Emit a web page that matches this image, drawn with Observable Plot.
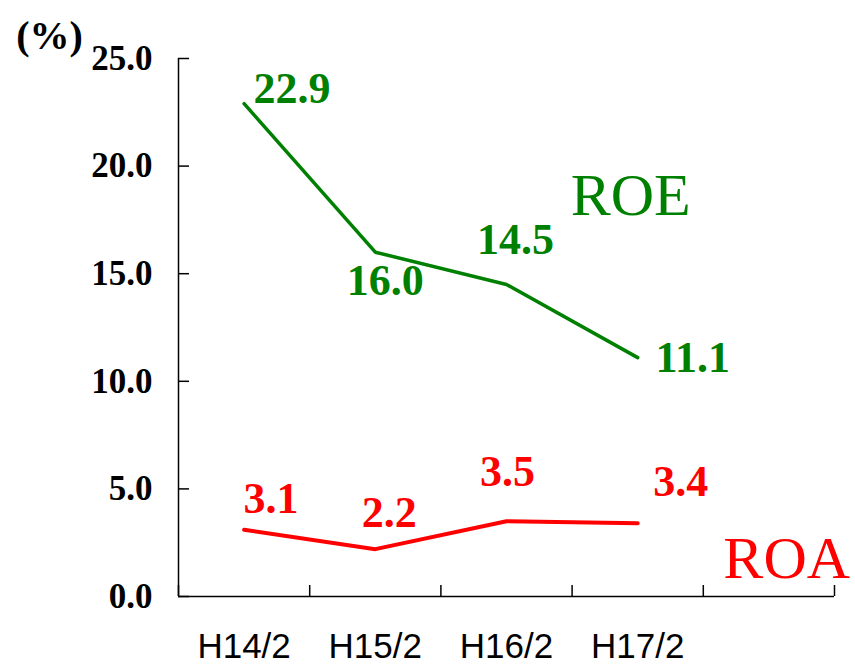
<!DOCTYPE html>
<html><head><meta charset="utf-8">
<script src="https://cdn.jsdelivr.net/npm/d3@7"></script>
<script src="https://cdn.jsdelivr.net/npm/@observablehq/plot@0.6"></script>
<style>body{margin:0;background:#fff} #chart{width:855px;height:664px}</style>
</head><body><div id="chart"></div>
<script>
const categories = ["H14/2", "H15/2", "H16/2", "H17/2"];
const roe = [22.9, 16.0, 14.5, 11.1];
const roa = [3.1, 2.2, 3.5, 3.4];
const yTicks = [0, 5, 10, 15, 20, 25];
const seriesNames = ["ROE", "ROA"];
const unitLabel = "(%)";

const rows = categories.map((c, i) => ({cat: c, pos: i + 0.5, roe: roe[i], roa: roa[i]}));
const bounds = d3.range(0, categories.length + 2);
const GREEN = "#008000", RED = "#ff0000";

const roeOff = [[48, -15], [10, 29], [9, -45], [55, 0]];
const roaOff = [[27, -31], [14, -36], [1, -49], [43, -41]];
const numFont = {fontFamily: "Liberation Serif", fontWeight: "bold", fontSize: 44, textAnchor: "middle", lineAnchor: "middle"};

const labelMarks = [];
rows.forEach((r, i) => {
  labelMarks.push(Plot.text([r], {x: "pos", y: "roe", text: d => d3.format(".1f")(d.roe), fill: GREEN, dx: roeOff[i][0], dy: roeOff[i][1], ...numFont}));
  labelMarks.push(Plot.text([r], {x: "pos", y: "roa", text: d => d3.format(".1f")(d.roa), fill: RED, dx: roaOff[i][0], dy: roaOff[i][1], ...numFont}));
});
const last = rows[rows.length - 1];

const chart = Plot.plot({
  width: 855, height: 664,
  marginLeft: 178, marginRight: 21, marginTop: 58, marginBottom: 68,
  style: {fontFamily: "Liberation Serif", background: "#fff", color: "#000"},
  x: {domain: [0, categories.length + 1]},
  y: {domain: [0, 25]},
  marks: [
    Plot.ruleX([0], {stroke: "#000", strokeWidth: 1.5}),
    Plot.ruleY([0], {stroke: "#000", strokeWidth: 1.5}),
    Plot.axisY({ticks: yTicks, tickSize: -11, tickFormat: () => "", strokeWidth: 1.5, label: null}),
    Plot.axisY({ticks: yTicks, tickSize: 0, tickPadding: 26, tickFormat: d3.format(".1f"), fontFamily: "Liberation Serif", fontWeight: "bold", fontSize: 35, fill: "#000", label: null}),
    Plot.axisX({ticks: bounds, tickSize: -11, tickFormat: () => "", strokeWidth: 1.5, label: null}),
    Plot.axisX({ticks: rows.map(r => r.pos), tickSize: 0, tickPadding: 37, tickFormat: p => categories[Math.floor(p)], fontFamily: "Liberation Sans", fontSize: 35, fill: "#000", label: null}),
    Plot.line(rows, {x: "pos", y: "roe", stroke: GREEN, strokeWidth: 3.5}),
    Plot.line(rows, {x: "pos", y: "roa", stroke: RED, strokeWidth: 4}),
    ...labelMarks,
    Plot.text([last], {x: "pos", y: "roe", text: () => seriesNames[0], fill: GREEN, dx: -7, dy: -162, fontFamily: "Liberation Serif", fontSize: 60, textAnchor: "middle", lineAnchor: "middle"}),
    Plot.text([last], {x: "pos", y: "roa", text: () => seriesNames[1], fill: RED, dx: 149, dy: 35, fontFamily: "Liberation Serif", fontSize: 60, textAnchor: "middle", lineAnchor: "middle"}),
    Plot.text([unitLabel], {x: () => 0, y: () => 25, text: d => d, dx: -129, dy: -22, fill: "#000", fontFamily: "Liberation Serif", fontWeight: "bold", fontSize: 40, textAnchor: "middle", lineAnchor: "middle"})
  ]
});
document.getElementById("chart").appendChild(chart);
</script>
</body></html>
